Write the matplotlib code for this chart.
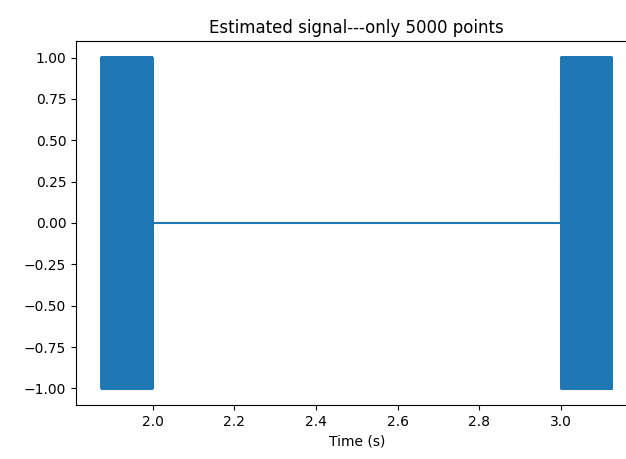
import numpy as np
import matplotlib.pyplot as plt

# Recording window and sample count of the estimated signal
t_start, t_end = 1.875, 3.125
n_points = 5000

# Bursts of the tone (start, end in seconds); the signal is silent elsewhere
burst_starts = [1.875, 3.0]
burst_ends = [2.0, 3.125]
tone_amp = 1.0

t = np.linspace(t_start, t_end, n_points)
k = np.arange(n_points)
signal = np.zeros_like(t)
for start, end in zip(burst_starts, burst_ends):
    mask = (t >= start - 1e-9) & (t <= end + 1e-9)
    # tone at the Nyquist rate: the sign flips from one sample to the next
    signal[mask] = tone_amp * np.where(k[mask] % 2 == 0, 1.0, -1.0)

# the axes run a little past the right edge of the canvas
fig = plt.figure(figsize=(6.26, 4.59), dpi=100)
ax = fig.add_axes([76 / 626, 1 - 405 / 459, 561.5 / 626, 364 / 459])
ax.plot(t, signal)
ax.set_xlim(1.8125, 3.1875)
ax.spines["right"].set_visible(False)
ax.set_xlabel("Time (s)")
ax.set_title("Estimated signal---only 5000 points")
fig.savefig("out.png", dpi=100)
